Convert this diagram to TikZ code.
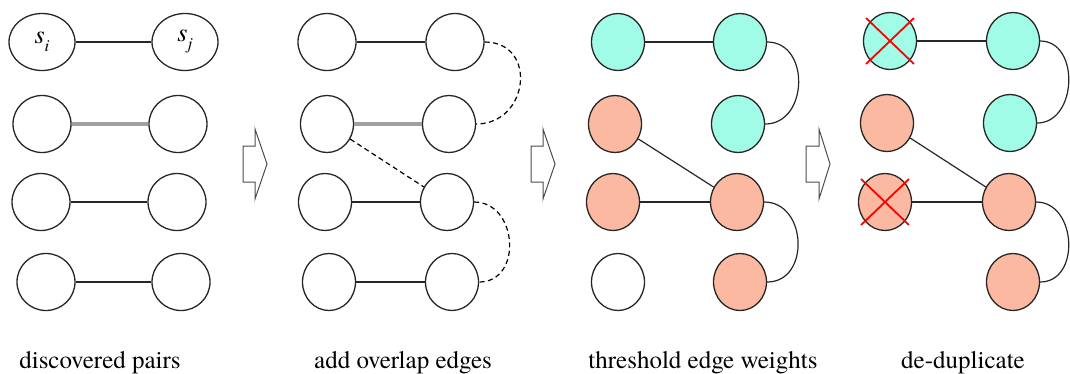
\documentclass[tikz,border=0pt]{standalone}
\usepackage{fontspec}
\setmainfont{TeX Gyre Termes}
\usetikzlibrary{shapes.geometric,shapes.misc}
\definecolor{keepgreen}{RGB}{160,252,230}
\definecolor{dropred}{RGB}{252,185,162}
\definecolor{weakgray}{RGB}{160,160,160}
\newcommand{\seqlabel}[2]{\fontsize{26}{30}\selectfont\textit{#1}\raisebox{-8pt}{\fontsize{17}{17}\selectfont\textit{#2}}}
\begin{document}
\begin{tikzpicture}[x=1pt,y=-1pt,
	seq/.style={shape=ellipse, draw=black!85, line width=1.3pt, inner sep=0pt, minimum width=53, minimum height=57},
	wide/.style={seq, minimum width=58},
	keep/.style={seq, fill=keepgreen},
	drop/.style={seq, fill=dropred},
	pair/.style={line width=1.2pt, draw=black!85},
	weak/.style={line width=3.2pt, draw=weakgray},
	overlap/.style={line width=1.2pt, dash pattern=on 5pt off 3.5pt},
	xmark/.style={shape=cross out, draw=red, line width=1.8pt, inner sep=0pt, minimum width=46, minimum height=44},
	blockarrow/.style={draw=black!70, line width=1pt},
	caption/.style={font=\fontsize{25}{29}\selectfont, anchor=base}]
	\useasboundingbox (0,0) rectangle (1070,373);
	% Discovered pairs
	\node[wide, minimum width=66] (A1) at (42, 42) {\seqlabel{s}{i}};
	\node[wide, minimum width=66] (A2) at (185, 42) {\seqlabel{s}{j}};
	\node[wide] (A3) at (42, 124) {};
	\node[wide] (A4) at (178, 124) {};
	\node[wide] (A5) at (41, 202) {};
	\node[wide] (A6) at (177, 202) {};
	\node[wide] (A7) at (46, 282) {};
	\node[wide] (A8) at (181, 282) {};
	\draw[pair] (A1) -- (A2);
	\draw[weak] (A3) -- (A4);
	\draw[pair] (A5) -- (A6);
	\draw[pair] (A7) -- (A8);
	% Overlap edges
	\node[wide] (B1) at (327, 42) {};
	\node[wide] (B2) at (455, 42) {};
	\node[seq] (B3) at (327, 124) {};
	\node[seq] (B4) at (449, 124) {};
	\node[seq] (B5) at (325, 202) {};
	\node[seq] (B6) at (447, 202) {};
	\node[seq] (B7) at (329, 282) {};
	\node[seq] (B8) at (452, 282) {};
	\draw[pair] (B1) -- (B2);
	\draw[weak] (B3) -- (B4);
	\draw[pair] (B5) -- (B6);
	\draw[pair] (B7) -- (B8);
	\draw[overlap] (B2.east) to[out=0, in=0, looseness=1.65] (B4.east);
	\draw[overlap] (B3) -- (B6);
	\draw[overlap] (B6.east) to[out=0, in=0, looseness=1.4] (B8.east);
	% Thresholded weights
	\node[keep] (C1) at (618, 42) {};
	\node[keep] (C2) at (740, 42) {};
	\node[drop] (C3) at (615, 124) {};
	\node[keep] (C4) at (738, 124) {};
	\node[drop] (C5) at (613, 202) {};
	\node[drop] (C6) at (737, 202) {};
	\node[seq] (C7) at (618, 282) {};
	\node[drop] (C8) at (740, 282) {};
	\draw[pair] (C1) -- (C2);
	\draw[pair] (C3) -- (C6);
	\draw[pair] (C5) -- (C6);
	\draw[pair] (C2.east) to[out=0, in=0, looseness=1.35] (C4.east);
	\draw[pair] (C6.east) to[out=0, in=0, looseness=1.38] (C8.east);
	% De-duplicated
	\node[keep] (D1) at (890, 41) {};
	\node[keep] (D2) at (1013, 41) {};
	\node[drop] (D3) at (887, 123) {};
	\node[keep] (D4) at (1010, 123) {};
	\node[drop] (D5) at (885, 202) {};
	\node[drop] (D6) at (1009, 202) {};
	\node[drop] (D8) at (1013, 282) {};
	\draw[pair] (D1) -- (D2);
	\draw[pair] (D3) -- (D6);
	\draw[pair] (D5) -- (D6);
	\draw[pair] (D2.east) to[out=0, in=0, looseness=1.25] (D4.east);
	\draw[pair] (D6.east) to[out=0, in=0, looseness=1.3] (D8.east);
	\node[xmark] (X1) at (D1) {};
	\node[xmark] (X2) at (D5) {};
	% Step arrows
	\foreach \ax/\bx/\tx in {243/255/267, 531/543/555, 806/819/830}
		\draw[blockarrow] (\ax,146) -- (\bx,146) -- (\bx,129) -- (\tx,164) -- (\bx,199) -- (\bx,182) -- (\ax,182) -- cycle;
	% Captions
	\node[caption] (L1) at (100, 368) {discovered pairs};
	\node[caption] (L2) at (403, 368) {add overlap edges};
	\node[caption] (L3) at (703, 368) {threshold edge weights};
	\node[caption] (L4) at (963, 368) {de-duplicate};
\end{tikzpicture}
\end{document}
